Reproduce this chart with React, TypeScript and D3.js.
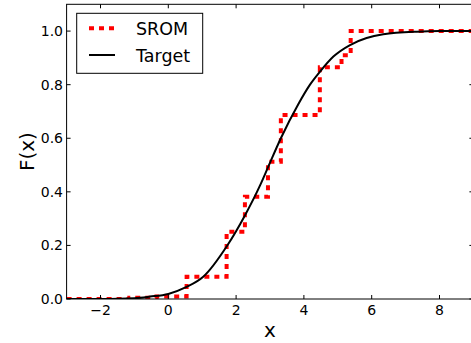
import React from "react";
import * as d3 from "d3";

// SROM step CDF (x where step starts, value after step)
const sromX = [-3, -1.15, -0.35, 0.54, 1.72, 2.26, 2.94, 3.32, 4.47, 5.11, 5.38, 9.5];
const sromF = [0, 0.005, 0.009, 0.083, 0.251, 0.382, 0.512, 0.687, 0.865, 0.91, 1.0, 1.0];

// Target CDF
const targetX = [-3, -2, -1, -0.54, 0, 0.54, 1.03, 1.72, 2.26, 2.71, 2.95, 3.32, 3.83, 4.18, 4.47, 4.87, 5.36, 5.85, 6.34, 7.33, 8, 9.5];
const targetF = [0, 0.0003, 0.003, 0.009, 0.019, 0.045, 0.083, 0.196, 0.312, 0.425, 0.494, 0.6, 0.726, 0.8, 0.848, 0.905, 0.948, 0.974, 0.988, 0.998, 1.0, 1.0];

const xTicks = [-2, 0, 2, 4, 6, 8];
const yTicks = [0, 0.2, 0.4, 0.6, 0.8, 1.0];

const W = 471;
const H = 343;
const left = 66.6;
const right = 473.4;
const top = 4.3;
const bottom = 299;

export default function App() {
  const x = d3.scaleLinear().domain([-3, 9]).range([left, right]);
  const y = d3.scaleLinear().domain([0, 1.1]).range([bottom, top]);

  const sromPts: [number, number][] = sromX.map((v, i) => [v, sromF[i]]);
  const tgtPts: [number, number][] = targetX.map((v, i) => [v, targetF[i]]);

  const stepLine = d3
    .line<[number, number]>()
    .x((d) => x(d[0]))
    .y((d) => y(d[1]))
    .curve(d3.curveStepAfter);
  const smoothLine = d3
    .line<[number, number]>()
    .x((d) => x(d[0]))
    .y((d) => y(d[1]))
    .curve(d3.curveMonotoneX);

  const fmtX = (v: number) => (v < 0 ? "\u2212" + Math.abs(v) : String(v));
  const font = "DejaVu Sans, sans-serif";

  return (
    <svg
      width={W}
      height={H}
      style={{ position: "absolute", left: 0, top: 0 }}
      xmlns="http://www.w3.org/2000/svg"
    >
      <rect x={0} y={0} width={W} height={H} fill="white" />
      <defs>
        <clipPath id="plotclip">
          <rect x={left} y={top} width={right - left} height={bottom - top} />
        </clipPath>
      </defs>
      <g clipPath="url(#plotclip)">
        <path
          d={stepLine(sromPts) || ""}
          fill="none"
          stroke="#ff0000"
          strokeWidth={4}
          strokeDasharray="5 5"
        />
        <path d={smoothLine(tgtPts) || ""} fill="none" stroke="black" strokeWidth={2} />
      </g>
      {/* spines */}
      <rect x={left} y={top} width={right - left} height={bottom - top} fill="none" stroke="black" strokeWidth={1} />
      {/* ticks */}
      {xTicks.map((t) => (
        <g key={"xt" + t}>
          <line x1={x(t)} x2={x(t)} y1={bottom} y2={bottom - 4} stroke="black" />
          <line x1={x(t)} x2={x(t)} y1={top} y2={top + 4} stroke="black" />
          <text x={x(t)} y={315} fontFamily={font} fontSize={14} textAnchor="middle">
            {fmtX(t)}
          </text>
        </g>
      ))}
      {yTicks.map((t) => (
        <g key={"yt" + t}>
          <line x1={left} x2={left + 4} y1={y(t)} y2={y(t)} stroke="black" />
          <line x1={right} x2={right - 4} y1={y(t)} y2={y(t)} stroke="black" />
          <text x={63} y={y(t)} dy="0.36em" fontFamily={font} fontSize={14} textAnchor="end">
            {t.toFixed(1)}
          </text>
        </g>
      ))}
      {/* axis labels */}
      <text x={(left + right) / 2} y={337} fontFamily={font} fontSize={20} textAnchor="middle">
        x
      </text>
      <text
        transform={`translate(34,${(top + bottom) / 2}) rotate(-90)`}
        fontFamily={font}
        fontSize={20}
        textAnchor="middle"
      >
        F(x)
      </text>
      {/* legend */}
      <rect x={76.7} y={13.3} width={126} height={60} fill="white" stroke="black" strokeWidth={1} />
      <line x1={89} x2={116} y1={28.3} y2={28.3} stroke="#ff0000" strokeWidth={4} strokeDasharray="5 5" />
      <text x={136} y={34.5} fontFamily={font} fontSize={17.5}>
        SROM
      </text>
      <line x1={89} x2={115} y1={55} y2={55} stroke="black" strokeWidth={2} />
      <text x={136} y={61.5} fontFamily={font} fontSize={17.5}>
        Target
      </text>
    </svg>
  );
}
